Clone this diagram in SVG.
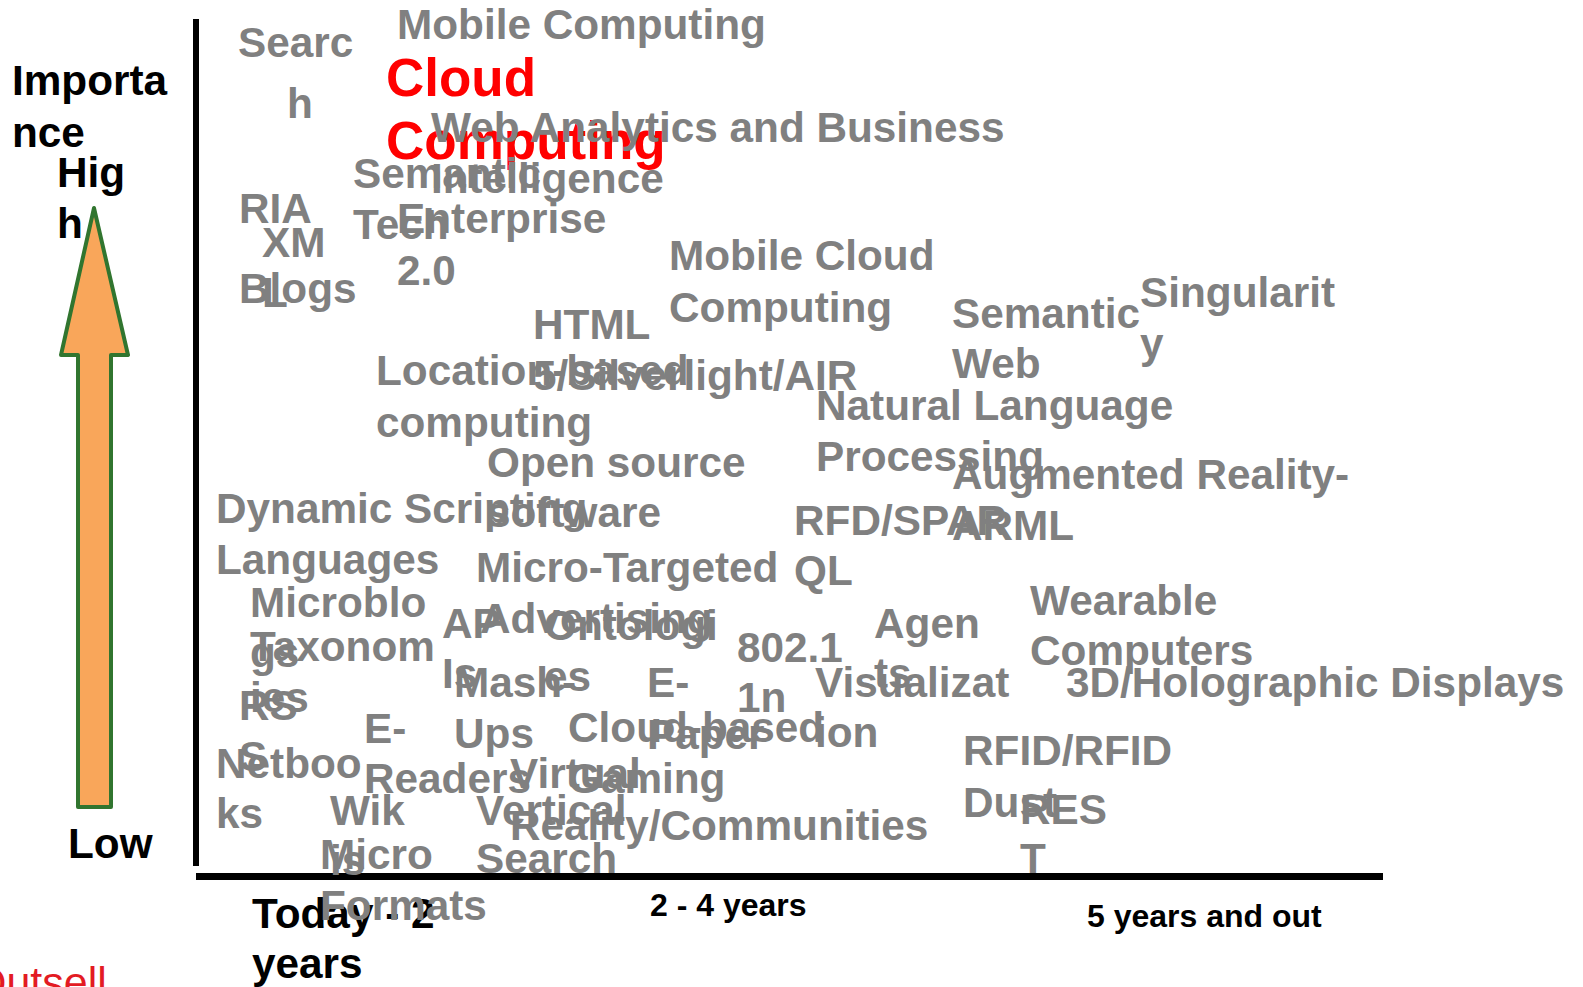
<svg xmlns="http://www.w3.org/2000/svg" width="1583" height="987" viewBox="0 0 1583 987">
<style>
text{font-family:"Liberation Sans",Arial,sans-serif;font-weight:bold;}
.g{fill:#808080;font-size:42.3px;}
.r{fill:#FF0000;font-size:53px;}
.k{fill:#000000;font-size:42.3px;}
.s{fill:#000000;font-size:32px;}
.o{fill:#E31B23;font-size:43px;font-weight:normal;}
</style>
<rect width="1583" height="987" fill="#FFFFFF"/>
<g id="axes">
<rect x="193" y="19" width="6" height="847" fill="#000"/>
<rect x="196" y="873" width="1187" height="7" fill="#000"/>
<polygon points="94,208 128,355 111,355 111,807 78,807 78,355 61,355" fill="#F9A65A" stroke="#31752F" stroke-width="4" stroke-linejoin="round"/>
</g>
<g id="connectors"></g>
<g id="axis-labels">
<text class="k"><tspan x="12" y="95">Importa</tspan><tspan x="12" y="147">nce</tspan></text>
<text class="k"><tspan x="57" y="187">Hig</tspan><tspan x="57" y="238">h</tspan></text>
<text class="k" x="68" y="858">Low</text>
<text class="k"><tspan x="252" y="928">Today - 2</tspan><tspan x="252" y="978">years</tspan></text>
<text class="s" x="650" y="916">2 - 4 years</text>
<text class="s" x="1087" y="927">5 years and out</text>
<text class="o" x="-27" y="997">Outsell</text>
</g>
<g id="search"><text class="g"><tspan x="238" y="57">Searc</tspan><tspan x="287" y="118">h</tspan></text></g>
<g id="mobile-computing"><text class="g" x="397" y="39">Mobile Computing</text></g>
<g id="cloud-computing"><text class="r"><tspan x="386" y="96">Cloud</tspan><tspan x="386" y="159">Computing</tspan></text></g>
<g id="web-analytics"><text class="g"><tspan x="431" y="142">Web Analytics and Business</tspan><tspan x="431" y="193">Intelligence</tspan></text></g>
<g id="semantic-tech"><text class="g"><tspan x="353" y="188">Semantic</tspan><tspan x="353" y="239">Tech</tspan></text></g>
<g id="enterprise"><text class="g"><tspan x="397" y="233">Enterprise</tspan><tspan x="397" y="285">2.0</tspan></text></g>
<g id="ria"><text class="g" x="239" y="223">RIA</text></g>
<g id="xml"><text class="g"><tspan x="262" y="257">XM</tspan><tspan x="262" y="307">L</tspan></text></g>
<g id="blogs"><text class="g" x="239" y="303">Blogs</text></g>
<g id="mobile-cloud"><text class="g"><tspan x="669" y="270">Mobile Cloud</tspan><tspan x="669" y="322">Computing</tspan></text></g>
<g id="html5"><text class="g"><tspan x="533" y="339">HTML</tspan><tspan x="533" y="390">5/Silverlight/AIR</tspan></text></g>
<g id="semantic-web"><text class="g"><tspan x="952" y="328">Semantic</tspan><tspan x="952" y="378">Web</tspan></text></g>
<g id="singularity"><text class="g"><tspan x="1140" y="307">Singularit</tspan><tspan x="1140" y="358">y</tspan></text></g>
<g id="location"><text class="g"><tspan x="376" y="385">Location-based</tspan><tspan x="376" y="437">computing</tspan></text></g>
<g id="nlp"><text class="g"><tspan x="816" y="420">Natural Language</tspan><tspan x="816" y="471">Processing</tspan></text></g>
<g id="open-source"><text class="g"><tspan x="487" y="477">Open source</tspan><tspan x="487" y="527">software</tspan></text></g>
<g id="augmented-reality"><text class="g"><tspan x="952" y="489">Augmented Reality-</tspan><tspan x="952" y="540">ARML</tspan></text></g>
<g id="dynamic-scripting"><text class="g"><tspan x="216" y="523">Dynamic Scripting</tspan><tspan x="216" y="574">Languages</tspan></text></g>
<g id="rdf-sparql"><text class="g"><tspan x="794" y="535">RFD/SPAR</tspan><tspan x="794" y="585">QL</tspan></text></g>
<g id="micro-targeted"><text class="g"><tspan x="476" y="582">Micro-Targeted</tspan><tspan x="480" y="633">Advertising</tspan></text></g>
<g id="wearable"><text class="g"><tspan x="1030" y="615">Wearable</tspan><tspan x="1030" y="665">Computers</tspan></text></g>
<g id="microblogs"><text class="g"><tspan x="250" y="617">Microblo</tspan><tspan x="250" y="667">gs</tspan></text></g>
<g id="taxonomies"><text class="g"><tspan x="250" y="661">Taxonom</tspan><tspan x="250" y="712">ies</tspan></text></g>
<g id="apis"><text class="g"><tspan x="442" y="638">AP</tspan><tspan x="442" y="688">Is</tspan></text></g>
<g id="ontologies"><text class="g"><tspan x="544" y="640">Ontologi</tspan><tspan x="544" y="691">es</tspan></text></g>
<g id="agents"><text class="g"><tspan x="874" y="638">Agen</tspan><tspan x="874" y="688">ts</tspan></text></g>
<g id="wifi"><text class="g"><tspan x="737" y="662">802.1</tspan><tspan x="737" y="712">1n</tspan></text></g>
<g id="visualization"><text class="g"><tspan x="815" y="697">Visualizat</tspan><tspan x="815" y="747">ion</tspan></text></g>
<g id="holographic"><text class="g" x="1066" y="697">3D/Holographic Displays</text></g>
<g id="mashups"><text class="g"><tspan x="454" y="697">Mash-</tspan><tspan x="454" y="748">Ups</tspan></text></g>
<g id="e-paper"><text class="g"><tspan x="647" y="697">E-</tspan><tspan x="647" y="749">Paper</tspan></text></g>
<g id="rss"><text class="g"><tspan x="239" y="720">RS</tspan><tspan x="239" y="771">S</tspan></text></g>
<g id="e-readers"><text class="g"><tspan x="364" y="743">E-</tspan><tspan x="364" y="793">Readers</tspan></text></g>
<g id="cloud-gaming"><text class="g"><tspan x="568" y="742">Cloud-based</tspan><tspan x="568" y="793">Gaming</tspan></text></g>
<g id="rfid"><text class="g"><tspan x="963" y="765">RFID/RFID</tspan><tspan x="963" y="817">Dust</tspan></text></g>
<g id="netbooks"><text class="g"><tspan x="216" y="778">Netboo</tspan><tspan x="216" y="828">ks</tspan></text></g>
<g id="virtual-reality"><text class="g"><tspan x="510" y="788">Virtual</tspan><tspan x="510" y="840">Reality/Communities</tspan></text></g>
<g id="wikis"><text class="g"><tspan x="330" y="825">Wik</tspan><tspan x="330" y="875">is</tspan></text></g>
<g id="rest"><text class="g"><tspan x="1020" y="824">RES</tspan><tspan x="1020" y="873">T</tspan></text></g>
<g id="vertical-search"><text class="g"><tspan x="476" y="825">Vertical</tspan><tspan x="476" y="873">Search</tspan></text></g>
<g id="microformats"><text class="g"><tspan x="320" y="869">Micro</tspan><tspan x="320" y="920">Formats</tspan></text></g>
</svg>
